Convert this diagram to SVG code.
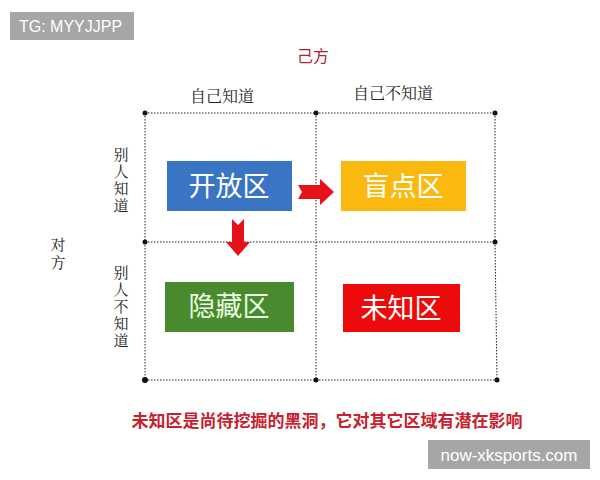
<svg xmlns="http://www.w3.org/2000/svg" width="600" height="480" viewBox="0 0 600 480">
<style>
.s{font-family:"Noto Sans CJK SC","Noto Sans",sans-serif;}
.sf{font-family:"Noto Serif CJK SC","Liberation Serif","Noto Sans CJK SC",serif;fill:#222;font-size:16px;}
.v{font-family:"Noto Serif CJK SC","Liberation Serif","Noto Sans CJK SC",serif;fill:#222;font-size:15px;}
.g{stroke:#222;stroke-width:1;stroke-dasharray:1.5 1.5;fill:none;}
.bx{font-family:"Noto Sans CJK SC",sans-serif;font-size:27px;text-anchor:middle;}
</style>
<rect width="600" height="480" fill="#fff"/>
<g id="wm1"><rect x="10" y="12" width="124" height="28" fill="#a6a6a6"/><text x="19" y="32" font-family="Liberation Sans,sans-serif" font-size="16" fill="#fff">TG: MYYJJPP</text></g>
<g id="wm2"><rect x="428" y="440" width="162" height="29" fill="#a6a6a6"/><text x="509" y="461" text-anchor="middle" font-family="Liberation Sans,sans-serif" font-size="17" fill="#fff">now-xksports.com</text></g>
<g id="grid">
<path class="g" d="M145 113H495M145 242H495M145 380H497M145 113V380M316 113V380M495 113V242M495 242L497 380"/>
<g fill="#111"><circle cx="145" cy="113" r="2.5"/><circle cx="316" cy="113" r="2.5"/><circle cx="495" cy="113" r="2.5"/><circle cx="145" cy="242" r="2.5"/><circle cx="495" cy="242" r="2.5"/><circle cx="145" cy="380" r="3"/><circle cx="316" cy="380" r="2.5"/><circle cx="497" cy="380" r="2.5"/></g>
</g>
<text x="313" y="62" class="s" font-size="16" fill="#b0203a" text-anchor="middle">己方</text>
<text x="222" y="102" class="sf" text-anchor="middle">自己知道</text>
<text x="393" y="99" class="sf" text-anchor="middle">自己不知道</text>
<text class="v" text-anchor="middle"><tspan x="121" y="160">别</tspan><tspan x="121" y="177">人</tspan><tspan x="121" y="194">知</tspan><tspan x="121" y="211">道</tspan></text>
<text class="v" text-anchor="middle"><tspan x="58" y="250">对</tspan><tspan x="58" y="268">方</tspan></text>
<text class="v" text-anchor="middle"><tspan x="121" y="278">别</tspan><tspan x="121" y="295">人</tspan><tspan x="121" y="312">不</tspan><tspan x="121" y="329">知</tspan><tspan x="121" y="346">道</tspan></text>
<g id="open"><rect x="167" y="161" width="125" height="50" fill="#3a75c4"/><text x="229" y="196" class="bx" fill="#fff">开放区</text></g>
<g id="blind"><rect x="341" y="161" width="125" height="50" fill="#fbb90f"/><text x="403" y="196" class="bx" fill="#fff">盲点区</text></g>
<g id="hidden"><rect x="165" y="282" width="129" height="50" fill="#4a8a2e"/><text x="229" y="316" class="bx" fill="#e8ffe0">隐藏区</text></g>
<g id="unknown"><rect x="343" y="284" width="117" height="48" fill="#ee0a0a"/><text x="401" y="318" class="bx" fill="#fff">未知区</text></g>
<g id="connectors" fill="#e5121a">
<path d="M298 185H320V179L334 192L320 205V199H298L302 192Z"/>
<path d="M232 219L238 225L244 219V242H250L238 256L226 242H232Z"/>
</g>
<text x="327" y="427" class="s" font-size="17" font-weight="bold" fill="#c8202e" text-anchor="middle">未知区是尚待挖掘的黑洞，它对其它区域有潜在影响</text>
</svg>
